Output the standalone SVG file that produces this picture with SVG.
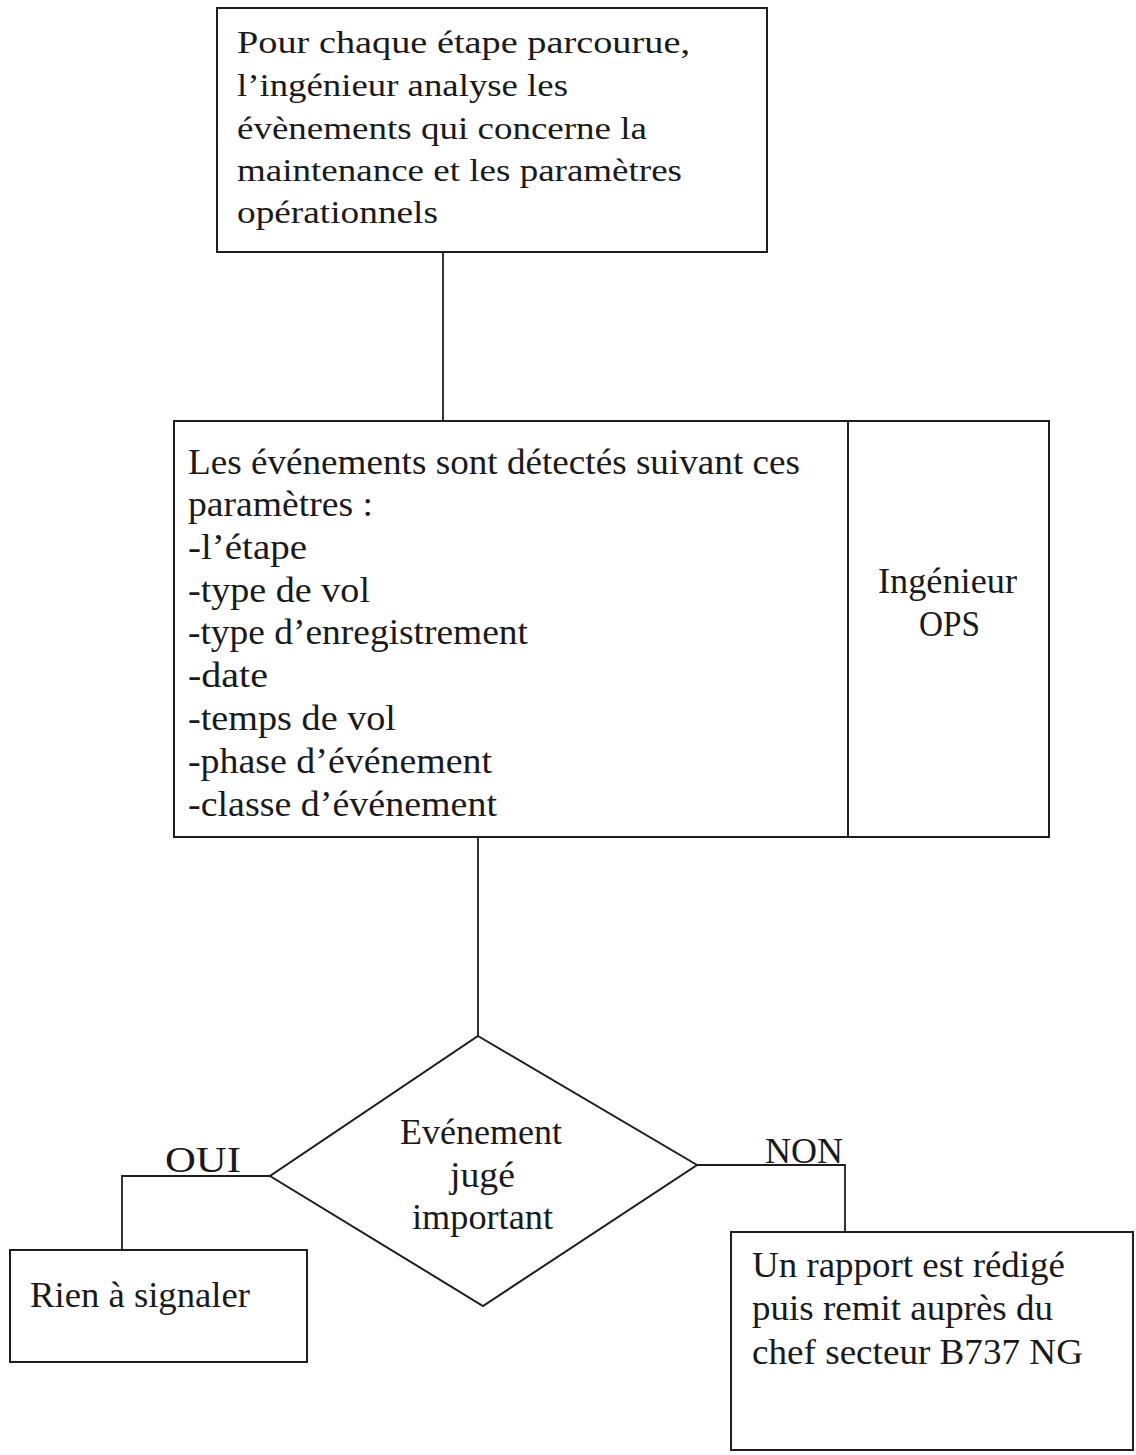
<svg xmlns="http://www.w3.org/2000/svg" width="1136" height="1455" viewBox="0 0 1136 1455">
  <style>
    .box { fill: none; stroke: #1e1e1e; stroke-width: 2; }
    .wire { fill: none; stroke: #1e1e1e; stroke-width: 1.8; }
    text { font-family: "Liberation Serif", "Times New Roman", serif; font-size: 35px; fill: #1a1a1a; }
    .small { font-size: 31px; }
  </style>
  <rect width="1136" height="1455" fill="#ffffff"/>

  <g id="connectors">
    <line class="wire" x1="443" y1="253" x2="443" y2="421"/>
    <line class="wire" x1="478" y1="836" x2="478" y2="1036"/>
    <polyline class="wire" points="270,1176 122,1176 122,1250"/>
    <polyline class="wire" points="697,1165 845,1165 845,1232"/>
  </g>

  <g id="node-analyse">
    <rect class="box" x="217" y="8" width="550" height="244"/>
    <text class="small" x="237" y="53" textLength="453" lengthAdjust="spacingAndGlyphs">Pour chaque étape parcourue,</text>
    <text class="small" x="237" y="96" textLength="331" lengthAdjust="spacingAndGlyphs">l’ingénieur analyse les</text>
    <text class="small" x="237" y="139" textLength="410" lengthAdjust="spacingAndGlyphs">évènements qui concerne la</text>
    <text class="small" x="237" y="181" textLength="445" lengthAdjust="spacingAndGlyphs">maintenance et les paramètres</text>
    <text class="small" x="237" y="223" textLength="201" lengthAdjust="spacingAndGlyphs">opérationnels</text>
  </g>

  <g id="node-parametres">
    <rect class="box" x="174" y="421" width="875" height="416"/>
    <line class="box" x1="848" y1="421" x2="848" y2="837"/>
    <text x="188" y="474" textLength="612" lengthAdjust="spacingAndGlyphs">Les événements sont détectés suivant ces</text>
    <text x="188" y="516" textLength="185" lengthAdjust="spacingAndGlyphs">paramètres :</text>
    <text x="188" y="559" textLength="119" lengthAdjust="spacingAndGlyphs">-l’étape</text>
    <text x="188" y="602" textLength="182" lengthAdjust="spacingAndGlyphs">-type de vol</text>
    <text x="188" y="644" textLength="340" lengthAdjust="spacingAndGlyphs">-type d’enregistrement</text>
    <text x="188" y="687" textLength="80" lengthAdjust="spacingAndGlyphs">-date</text>
    <text x="188" y="730" textLength="208" lengthAdjust="spacingAndGlyphs">-temps de vol</text>
    <text x="188" y="773" textLength="304" lengthAdjust="spacingAndGlyphs">-phase d’événement</text>
    <text x="188" y="816" textLength="309" lengthAdjust="spacingAndGlyphs">-classe d’événement</text>
    <text x="878" y="593" textLength="139" lengthAdjust="spacingAndGlyphs">Ingénieur</text>
    <text x="919" y="636" textLength="61" lengthAdjust="spacingAndGlyphs">OPS</text>
  </g>

  <g id="node-decision">
    <polygon class="box" points="478,1036 697,1165 483,1306 270,1176"/>
    <text x="400" y="1144" textLength="162" lengthAdjust="spacingAndGlyphs">Evénement</text>
    <text x="450" y="1187" textLength="65" lengthAdjust="spacingAndGlyphs">jugé</text>
    <text x="412" y="1229" textLength="141" lengthAdjust="spacingAndGlyphs">important</text>
  </g>

  <g id="label-oui">
    <text x="165" y="1172" textLength="76" lengthAdjust="spacingAndGlyphs">OUI</text>
  </g>
  <g id="label-non">
    <text x="765" y="1163" textLength="78" lengthAdjust="spacingAndGlyphs">NON</text>
  </g>

  <g id="node-rien">
    <rect class="box" x="10" y="1250" width="297" height="112"/>
    <text x="30" y="1307" textLength="220" lengthAdjust="spacingAndGlyphs">Rien à signaler</text>
  </g>

  <g id="node-rapport">
    <rect class="box" x="731" y="1232" width="402" height="218"/>
    <text x="752" y="1277" textLength="313" lengthAdjust="spacingAndGlyphs">Un rapport est rédigé</text>
    <text x="752" y="1320" textLength="301" lengthAdjust="spacingAndGlyphs">puis remit auprès du</text>
    <text x="752" y="1364" textLength="331" lengthAdjust="spacingAndGlyphs">chef secteur B737 NG</text>
  </g>
</svg>
